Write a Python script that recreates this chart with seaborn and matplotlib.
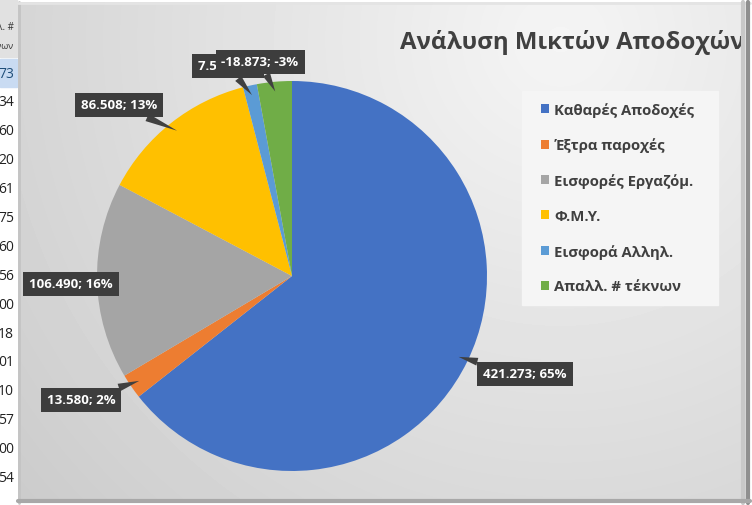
import numpy as np
import matplotlib
matplotlib.use("Agg")
import matplotlib.pyplot as plt
import seaborn as sns
from matplotlib.patches import Rectangle

# Δεδομένα γραφήματος
categories = ["Καθαρές Αποδοχές", "Έξτρα παροχές", "Εισφορές Εργαζόμ.",
              "Φ.Μ.Υ.", "Εισφορά Αλληλ.", "Απαλλ. # τέκνων"]
amounts = [421273, 13580, 106490, 86508, 7560, -18873]
percent_labels = ["65%", "2%", "16%", "13%", "1%", "-3%"]
colors = ["#4472C4", "#ED7D31", "#A5A5A5", "#FFC000", "#5B9BD5", "#70AD47"]

# Κομμένη στήλη του φύλλου εργασίας στα αριστερά
sheet_header = ["λλ. #", "τέκνων"]
sheet_cells = ["73", "34", "60", "20", "61", "75", "60", "56",
               "00", "18", "01", "10", "57", "00", "54"]

sns.set_theme(style="white")
plt.rcParams["font.family"] = ["Open Sans", "DejaVu Sans"]

W, H = 752, 506
cx, cy, r = 292, 277, 195          # κέντρο / ακτίνα πίτας σε pixel
label_pos = [(525, 375), (81, 401), (71, 285), (119, 106), (228, 67), (260, 63)]
pointer = [True, True, False, True, True, True]

fig = plt.figure(figsize=(W / 100, H / 100), dpi=100)

# Φόντο σε συντεταγμένες pixel
bg = fig.add_axes([0, 0, 1, 1])
bg.set_xlim(0, W)
bg.set_ylim(H, 0)
bg.axis("off")

bg.add_patch(Rectangle((0, 0), 17, 58, color="#e1e1e1", zorder=1))
bg.add_patch(Rectangle((0, 60), 17, 28, color="#c9dbf2", zorder=1))
bg.text(14, 27, sheet_header[0], ha="right", va="center", fontsize=7, color="#333333", zorder=2)
bg.text(14, 46, sheet_header[1], ha="right", va="center", fontsize=6.5, color="#333333", zorder=2)
for i, c in enumerate(sheet_cells):
    bg.text(-2, 74 + 28.9 * i, c, ha="left", va="center", fontsize=10,
            color="#1f4e79" if i == 0 else "#222222", zorder=2)

# Διαβάθμιση του χώρου γραφήματος
yy, xx = np.mgrid[3:504, 18:750]
shade = 0.96 - 0.16 * np.hypot(xx - 560, yy - 40) / 700
bg.imshow(shade, cmap="gray", vmin=0, vmax=1, extent=(18, 750, 504, 3),
          aspect="auto", interpolation="bilinear", zorder=3)

bg.text(400, 49, "Ανάλυση Μικτών Αποδοχών", ha="left", va="baseline",
        fontsize=17.3, fontweight="bold", color="#404040", zorder=4)

# πλαίσιο υπομνήματος
bg.add_patch(Rectangle((522, 92), 196, 214, color="#f5f5f5", zorder=4))

# Περίγραμμα (ανάγλυφο)
bg.plot([19, 19], [3, 504], color="#c4c4c4", lw=2, zorder=6)
bg.plot([18, 750], [4, 4], color="#e4e4e4", lw=2, zorder=6)
bg.plot([743, 743], [3, 504], color="#c8c8c8", lw=3, zorder=6)
bg.plot([747.5, 747.5], [3, 504], color="#8f8f8f", lw=3, zorder=6)
bg.plot([18, 750], [502, 502], color="#a8a8a8", lw=3, zorder=6)

# Πίτα
ax = fig.add_axes([(cx - r) / W, (H - cy - r) / H, 2 * r / W, 2 * r / H])
ax.patch.set_alpha(0)
wedges, _ = ax.pie(np.abs(amounts), colors=colors, startangle=90,
                   counterclock=False, radius=1,
                   wedgeprops=dict(linewidth=0, edgecolor="none"))
ax.set_xlim(-1, 1)
ax.set_ylim(-1, 1)

for i, (w, amt, pct) in enumerate(zip(wedges, amounts, percent_labels)):
    ang = np.deg2rad((w.theta1 + w.theta2) / 2)
    tip = (0.95 * np.cos(ang), 0.95 * np.sin(ang))
    lx, ly = label_pos[i]
    txt = f"{amt:,}".replace(",", ".") + "; " + pct
    arrow = dict(arrowstyle="wedge,tail_width=0.6,shrink_factor=0.5",
                 fc="#404040", ec="none", shrinkA=0, shrinkB=0) if pointer[i] else None
    ax.annotate(txt, xy=tip, xytext=((lx - cx) / r, (cy - ly) / r),
                ha="center", va="center", color="white", fontsize=9.5,
                fontweight="bold", annotation_clip=False, zorder=10 + i,
                bbox=dict(boxstyle="square,pad=0.45", fc="#3d3d3d", ec="none"),
                arrowprops=arrow)

leg = fig.legend(wedges, categories, loc="upper left",
                 bbox_to_anchor=(541 / W, 1 - 103 / H), frameon=False, fontsize=10.7,
                 handlelength=0.55, handleheight=0.55, handletextpad=0.35,
                 labelspacing=1.4, borderpad=0, borderaxespad=0)
for t in leg.get_texts():
    t.set_color("#404040")
    t.set_fontweight("bold")

fig.savefig("out.png", dpi=100)
